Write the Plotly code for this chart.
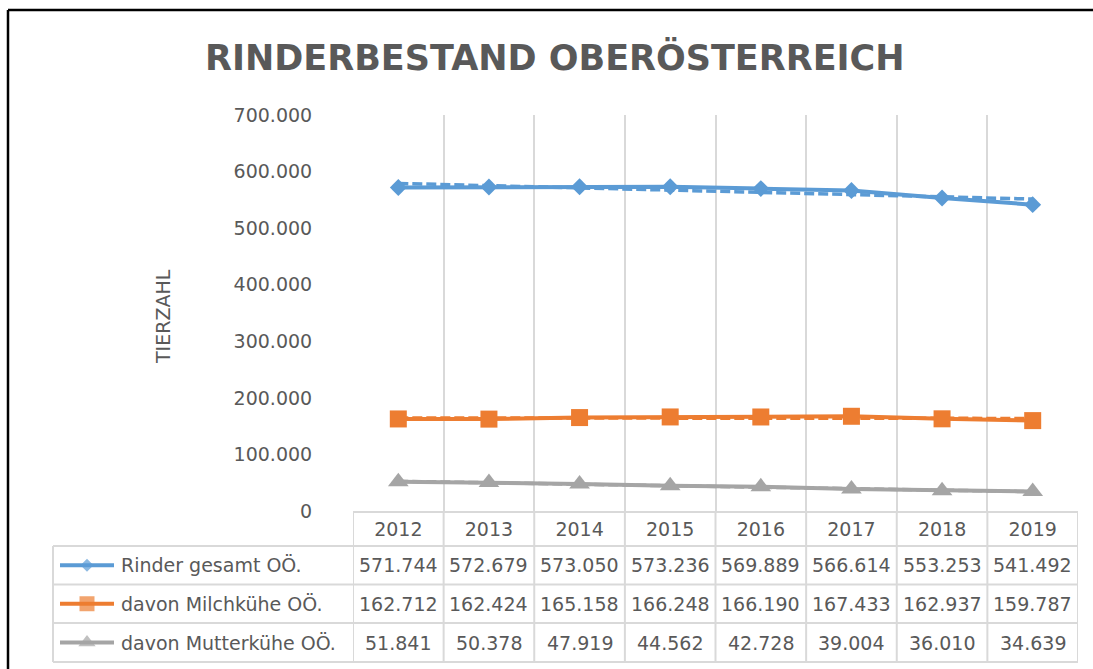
import numpy as np
import plotly.graph_objects as go

# ---------------- data ----------------
years = ["2012", "2013", "2014", "2015", "2016", "2017", "2018", "2019"]
series_names = ["Rinder gesamt OÖ.", "davon Milchkühe OÖ.", "davon Mutterkühe OÖ."]
rinder_gesamt = [571744, 572679, 573050, 573236, 569889, 566614, 553253, 541492]
milchkuehe = [162712, 162424, 165158, 166248, 166190, 167433, 162937, 159787]
mutterkuehe = [51841, 50378, 47919, 44562, 42728, 39004, 36010, 34639]
y_tick_values = [0, 100000, 200000, 300000, 400000, 500000, 600000, 700000]
chart_title = "RINDERBESTAND OBERÖSTERREICH"
y_axis_title = "TIERZAHL"

series_values = [rinder_gesamt, milchkuehe, mutterkuehe]

# ---------------- styles ----------------
colors = ["#5B9BD5", "#ED7D31", "#A5A5A5"]
symbols = ["diamond", "square", "triangle-up"]
marker_sizes = [13, 17, 18]
key_marker_sizes = [10, 15, 15]
text_color = "#595959"
grid_color = "#D9D9D9"
font_family = "DejaVu Sans"

# ---------------- geometry (pixels) ----------------
W, H = 1093, 669
PLOT_L, PLOT_R, PLOT_T, PLOT_B = 353, 1078, 115, 511
TABLE_L = 53
ROW_EDGES = [511, 546, 584.5, 623, 662]


def fx(p):
    return p / W


def fy(p):
    return (H - p) / H


fig = go.Figure()

# linear trend lines (dashed)
idx = np.arange(len(years))
for vals, col in zip(series_values, colors):
    slope, intercept = np.polyfit(idx, np.array(vals, dtype=float), 1)
    fig.add_trace(go.Scatter(
        x=[years[0], years[-1]],
        y=[intercept + slope * idx[0], intercept + slope * idx[-1]],
        mode="lines",
        line=dict(color=col, width=3.5, dash="10px,4px"),
        showlegend=False, hoverinfo="skip",
    ))

# data series
for name, vals, col, sym, ms in zip(series_names, series_values, colors, symbols, marker_sizes):
    fig.add_trace(go.Scatter(
        x=years, y=vals, name=name,
        mode="lines+markers",
        line=dict(color=col, width=4),
        marker=dict(symbol=sym, size=ms, color=col, line=dict(width=0)),
        showlegend=False,
    ))

# legend keys inside the data table (pixel overlay axes)
for i, (col, sym, ms) in enumerate(zip(colors, symbols, key_marker_sizes)):
    yc = (ROW_EDGES[i + 1] + ROW_EDGES[i + 2]) / 2
    fig.add_trace(go.Scatter(
        x=[60, 87, 114], y=[yc, yc, yc],
        xaxis="x2", yaxis="y2",
        mode="lines+markers",
        line=dict(color=col, width=4),
        marker=dict(symbol=sym, size=[0, ms, 0], color=col, line=dict(width=0)),
        showlegend=False, hoverinfo="skip",
    ))

annotations = []
# title
annotations.append(dict(
    x=fx(555), y=fy(57), xref="paper", yref="paper",
    text="<b>" + chart_title + "</b>", showarrow=False,
    xanchor="center", yanchor="middle",
    font=dict(family=font_family, size=35, color=text_color),
))
# y axis title
annotations.append(dict(
    x=fx(163), y=fy(317), xref="paper", yref="paper",
    text=y_axis_title, showarrow=False, textangle=-90,
    xanchor="center", yanchor="middle",
    font=dict(family=font_family, size=19, color=text_color),
))
# table content
for i, (name, vals) in enumerate(zip(series_names, series_values)):
    yc = (ROW_EDGES[i + 1] + ROW_EDGES[i + 2]) / 2
    annotations.append(dict(
        x=fx(119), y=fy(yc), xref="paper", yref="paper",
        text=name, showarrow=False, xanchor="left", yanchor="middle",
        font=dict(family=font_family, size=19, color=text_color),
    ))
    for k, v in enumerate(vals):
        annotations.append(dict(
            x=k, y=fy(yc), xref="x", yref="paper",
            text=f"{v:,}".replace(",", "."), showarrow=False,
            xanchor="center", yanchor="middle",
            font=dict(family=font_family, size=19, color=text_color),
        ))

shapes = []
# table vertical lines
for k in range(len(years) + 1):
    shapes.append(dict(type="line", xref="x", yref="paper",
                       x0=k - 0.5, x1=k - 0.5, y0=fy(ROW_EDGES[0]), y1=fy(ROW_EDGES[-1]),
                       line=dict(color=grid_color, width=2)))
shapes.append(dict(type="line", xref="paper", yref="paper",
                   x0=fx(TABLE_L), x1=fx(TABLE_L), y0=fy(ROW_EDGES[1]), y1=fy(ROW_EDGES[-1]),
                   line=dict(color=grid_color, width=2)))
# table horizontal lines
for r in ROW_EDGES[1:]:
    shapes.append(dict(type="line", xref="paper", yref="paper",
                       x0=fx(TABLE_L), x1=fx(PLOT_R), y0=fy(r), y1=fy(r),
                       line=dict(color=grid_color, width=2)))
# outer frame (top and left)
shapes.append(dict(type="line", xref="paper", yref="paper",
                   x0=fx(8), x1=fx(8), y0=0, y1=fy(10),
                   line=dict(color="#000000", width=2.5)))
shapes.append(dict(type="line", xref="paper", yref="paper",
                   x0=fx(8), x1=1, y0=fy(10), y1=fy(10),
                   line=dict(color="#000000", width=2.5)))

fig.update_layout(
    width=W, height=H,
    autosize=False,
    margin=dict(l=0, r=0, t=0, b=0, pad=0),
    paper_bgcolor="white", plot_bgcolor="rgba(0,0,0,0)",
    separators=",.",
    font=dict(family=font_family, size=19, color=text_color),
    xaxis=dict(
        type="category", categoryorder="array", categoryarray=years,
        range=[-0.5, len(years) - 0.5],
        domain=[fx(PLOT_L), fx(PLOT_R)],
        tickson="boundaries", ticks="outside", ticklen=4, tickcolor="rgba(0,0,0,0)",
        showgrid=True, gridcolor=grid_color, gridwidth=2,
        showline=True, linecolor=grid_color, linewidth=2,
        tickfont=dict(family=font_family, size=19, color=text_color),
        automargin=False,
        fixedrange=True,
    ),
    yaxis=dict(
        range=[0, 700000],
        domain=[fy(PLOT_B), fy(PLOT_T)],
        tickvals=y_tick_values, tickformat=",",
        showgrid=False, zeroline=False, showline=False,
        ticks="outside", ticklen=36, tickcolor="rgba(0,0,0,0)",
        tickfont=dict(family=font_family, size=19, color=text_color),
        automargin=False,
        fixedrange=True,
    ),
    xaxis2=dict(domain=[0, 1], range=[0, W], visible=False, showline=False, anchor="y2", fixedrange=True),
    yaxis2=dict(domain=[0, 1], range=[H, 0], visible=False, showline=False, anchor="x2", fixedrange=True),
    annotations=annotations,
    shapes=shapes,
)

fig.write_html("out.html", config={"displayModeBar": False},
               post_script="document.body.style.margin='0';document.body.style.overflow='hidden';")
